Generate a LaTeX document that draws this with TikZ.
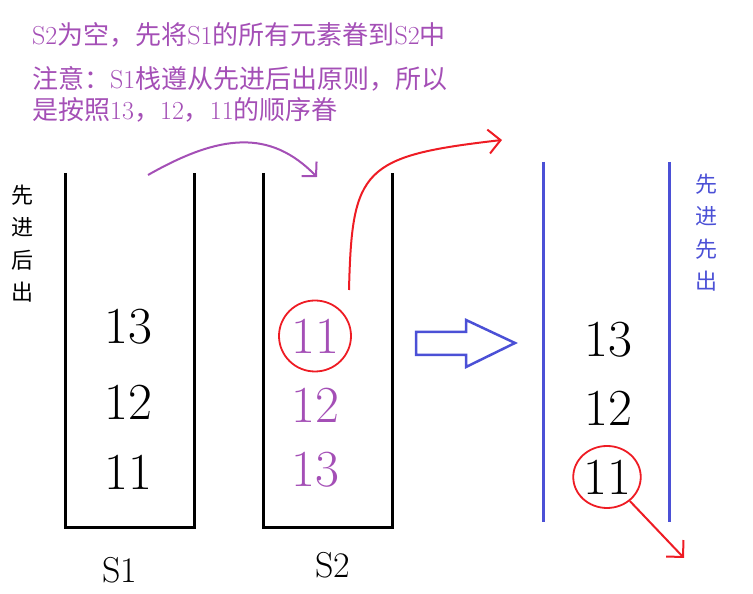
\documentclass[tikz,border=0pt]{standalone}
\usepackage{fontspec}
\newfontfamily\cjk{Noto Sans CJK SC}
\usepackage{xcolor}
\usepackage{tikz}
\usetikzlibrary{arrows.meta,shapes.geometric}
\definecolor{notepurple}{HTML}{A44FB6}
\definecolor{markred}{HTML}{EE1C24}
\definecolor{queueblue}{HTML}{4B50D6}
\newcommand{\ltn}[1]{{\rmfamily #1}}

\begin{document}
\begin{tikzpicture}[x=1pt,y=1pt,
  elem/.style={font=\fontsize{52}{52}\selectfont,inner sep=0pt},
  notetext/.style={font=\cjk\fontsize{26}{30}\selectfont,text=notepurple,anchor=west,inner sep=0pt},
  sidetext/.style={font=\cjk\fontsize{22}{32.5}\selectfont,align=center,inner sep=0pt},
  stacklabel/.style={font=\fontsize{36}{36}\selectfont,inner sep=0pt},
  ring/.style={ellipse,draw=markred,line width=1.8pt},
  wall/.style={line width=3pt,black},
  redarrow/.style={markred,line width=2pt,-{Straight Barb[length=12pt,width=24pt]}},
  purplearrow/.style={notepurple,line width=2pt,-{Straight Barb[length=10pt,width=21pt]}}]
  \useasboundingbox (0,0) rectangle (753,594);
  % Notes
  \node[notetext] (note1) at (32,559) {\ltn{S2}为空，先将\ltn{S1}的所有元素眷到\ltn{S2}中};
  \node[notetext] (note2) at (32,515) {注意：\ltn{S1}栈遵从先进后出原则，所以};
  \node[notetext] (note3) at (32,484) {是按照\ltn{13}，\ltn{12}，\ltn{11}的顺序眷};
  % Side texts
  \node[sidetext] (lside) at (23,350.5) {先\\进\\后\\出};
  \node[sidetext,text=queueblue] (rside) at (706,361.5) {先\\进\\先\\出};
  % Stack S1
  \draw[wall] (65,421) -- (65,66) -- (194,66) -- (194,421);
  \node[elem] (s1c) at (128,267) {13};
  \node[elem] (s1b) at (128,192) {12};
  \node[elem] (s1a) at (128,122) {11};
  \node[stacklabel] (s1lab) at (120,24) {S1};
  % Stack S2
  \draw[wall] (263,421) -- (263,66) -- (392,66) -- (392,421);
  \node[elem,ring,text=notepurple,minimum width=72pt,minimum height=71pt] (s2top) at (315,258) {11};
  \node[elem,text=notepurple] (s2b) at (315,189) {12};
  \node[elem,text=notepurple] (s2c) at (315,124) {13};
  \node[stacklabel] (s2lab) at (333,29) {S2};
  % Transfer S1 -> S2
  \coordinate (pstart) at (148,419);
  \coordinate (pend) at (317,417);
  \draw[purplearrow] (pstart) .. controls (220,460) and (270,465) .. (pend);
  % Pop from S2
  \coordinate (rstart) at (349,304);
  \coordinate (rend) at (502,454);
  \draw[redarrow] (rstart) .. controls (352,425) and (362,438) .. (rend);
  % Block arrow
  \draw[queueblue,line width=2.5pt,line join=miter]
    (416,262) -- (466,262) -- (466,274) -- (515,251) -- (466,227) -- (466,239) -- (416,239) -- cycle;
  % Queue
  \draw[queueblue,line width=3pt] (543,432) -- (543,72);
  \draw[queueblue,line width=3pt] (669,432) -- (669,72);
  \node[elem] (qc) at (608,254) {13};
  \node[elem] (qb) at (608,186) {12};
  \node[elem,ring,minimum width=66pt,minimum height=62pt] (qa) at (607,117) {11};
  \coordinate (qout) at (684,36);
  \draw[redarrow] (qa) -- (qout);
\end{tikzpicture}
\end{document}
